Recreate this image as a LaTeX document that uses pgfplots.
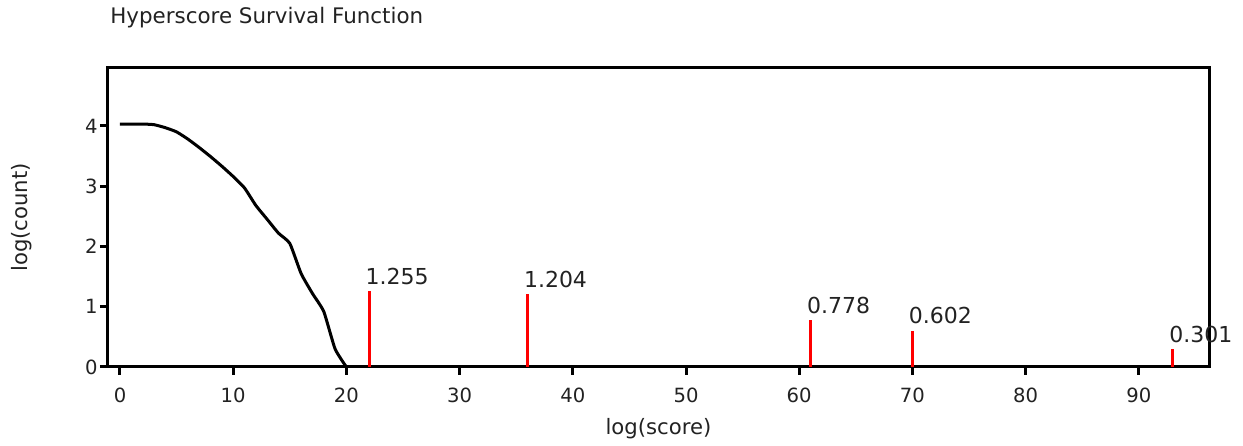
\documentclass[border=0pt]{standalone}
\usepackage{fontspec}
\setmainfont{DejaVu Sans}
\usepackage{pgfplots}
\pgfplotsset{compat=1.18}
\definecolor{txt}{HTML}{222222}
\begin{document}
\begin{tikzpicture}
\begin{axis}[
  scale only axis,
  width=550.5pt, height=149.5pt,
  xmin=-1.06, xmax=96.2, ymin=0, ymax=4.96,
  axis line style={line width=1.5pt, black},
  tick style={line width=1.5pt, black},
  major tick length=4pt,
  tick align=outside,
  xtick={0,10,...,90}, ytick={0,1,2,3,4},
  xtick pos=bottom, ytick pos=left,
  /pgf/number format/assume math mode=true,
  tick label style={font=\fontsize{9.8}{11}\selectfont, text=txt},
  xticklabel style={yshift=-3pt},
  yticklabel style={inner sep=1pt},
  xlabel={log(score)}, ylabel={log(count)},
  label style={font=\fontsize{10.6}{12}\selectfont, text=txt},
  xlabel style={at={(rel axis cs:0.5,-0.2074)}, anchor=center},
  ylabel style={at={(rel axis cs:-0.0781,0.5)}, anchor=center},
  clip=false,
]
\coordinate (sw) at (rel axis cs:0,0);
\coordinate (ne) at (rel axis cs:1,1);
\addplot[black, line width=1.5pt, smooth, tension=0.3] coordinates {
(0,4.03) (1,4.03) (2,4.03) (3,4.02) (4,3.97) (5,3.90) (6,3.78) (7,3.64)
(8,3.49) (9,3.33) (10,3.16) (11,2.97) (12,2.68) (13,2.45) (14,2.22)
(15,2.05) (16,1.55) (17,1.22) (18,0.92) (19,0.30) (20,0)
};
\addplot[ycomb, red, line width=1.5pt, mark=none,
  nodes near coords={\pgfmathprintnumber[fixed,precision=3,fixed zerofill]{\pgfplotspointmeta}},
  every node near coord/.append style={anchor=south west, inner sep=1pt, xshift=-3.5pt, yshift=1.5pt, text=txt, font=\fontsize{11}{12}\selectfont}
] coordinates {
(22,1.255) (36,1.204) (61,0.778) (70,0.602) (93,0.301)
};
\node[anchor=west, text=txt, font=\fontsize{10.7}{12}\selectfont, inner sep=0pt] at ([xshift=1pt, yshift=25pt]rel axis cs:0,1) {Hyperscore Survival Function};
\end{axis}
\useasboundingbox ([xshift=-54pt, yshift=-39pt]sw) rectangle ([xshift=17pt, yshift=34pt]ne);
\end{tikzpicture}
\end{document}
